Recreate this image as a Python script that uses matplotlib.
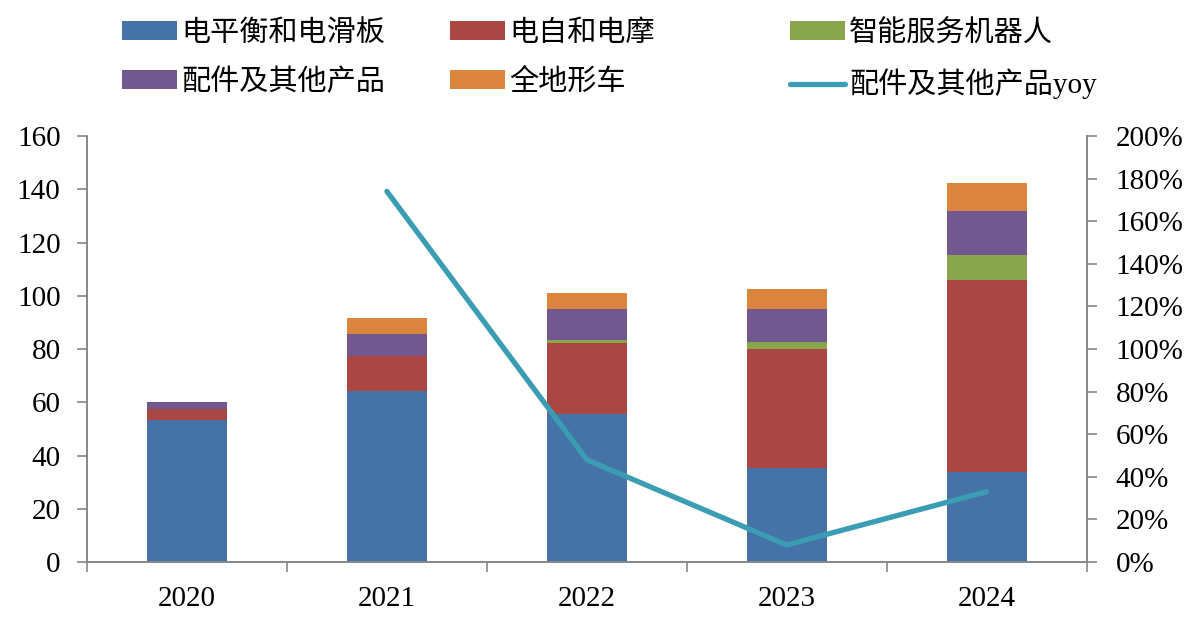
import numpy as np
import matplotlib.pyplot as plt
from matplotlib.ticker import FuncFormatter

plt.rcParams['font.family'] = ['Liberation Serif', 'Noto Sans CJK SC']

years = ['2020', '2021', '2022', '2023', '2024']
balance = [53.2, 64.3, 55.6, 35.4, 33.8]       # 电平衡和电滑板
ebike = [4.2, 13.2, 26.7, 44.5, 72.1]          # 电自和电摩
robot = [0.0, 0.0, 1.0, 2.7, 9.4]              # 智能服务机器人
parts = [2.6, 8.1, 11.6, 12.3, 16.5]           # 配件及其他产品
atv = [0.0, 6.2, 6.0, 7.6, 10.4]               # 全地形车
parts_yoy = [np.nan, 1.74, 0.48, 0.08, 0.33]   # 配件及其他产品yoy

names = ['电平衡和电滑板', '电自和电摩', '智能服务机器人', '配件及其他产品', '全地形车']
colors = ['#4572A7', '#AA4643', '#89A54E', '#71588F', '#DB843D']
line_color = '#3A9DB3'

fig = plt.figure(figsize=(12, 6.21), dpi=100)
ax = fig.add_axes([0.0725, 0.095, 0.833, 0.686])

x = np.arange(len(years))
bottom = np.zeros(len(years))
bars = []
for vals, name, c in zip([balance, ebike, robot, parts, atv], names, colors):
    b = ax.bar(x, vals, 0.4, bottom=bottom, color=c, label=name, zorder=2)
    bars.append(b)
    bottom += np.array(vals)

ax.set_xlim(-0.5, 4.5)
ax.set_ylim(0, 160)
ax.set_yticks(range(0, 161, 20))
ax.set_xticks(x)
ax.set_xticklabels(years)
ax.set_xticks(np.arange(-0.5, 5, 1), minor=True)
ax.tick_params(axis='x', which='major', length=0, pad=17, labelsize=21)
ax.tick_params(axis='x', which='minor', length=7, width=1.2, color='#888888')
ax.tick_params(axis='y', length=7, width=1.2, color='#888888', pad=12, labelsize=21)

ax2 = ax.twinx()
ln, = ax2.plot(x, parts_yoy, color=line_color, lw=3.8, solid_capstyle='round',
               label='配件及其他产品yoy', zorder=3)
ax2.set_ylim(0, 2.0)
ax2.set_yticks(np.arange(0, 2.01, 0.2))
ax2.yaxis.set_major_formatter(FuncFormatter(lambda v, p: f'{v*100:.0f}%'))
ax2.tick_params(axis='y', length=7, width=1.2, color='#888888', pad=14, labelsize=21)

for a in (ax, ax2):
    a.spines['top'].set_visible(False)
    for s in ('left', 'right', 'bottom'):
        a.spines[s].set_color('#888888')
        a.spines[s].set_linewidth(1.2)

# legend: three columns placed by hand
cols = [([bars[0], bars[3]], [names[0], names[3]], 122),
        ([bars[1], bars[4]], [names[1], names[4]], 450),
        ([bars[2], ln], [names[2], '配件及其他产品yoy'], 790)]
for h, l, px in cols:
    fig.legend(h, l, loc='upper left', bbox_to_anchor=(px / 1200, 1 - 20 / 621),
               frameon=False, fontsize=21, handlelength=1.9, handleheight=0.62,
               handletextpad=0.12, labelspacing=0.74, borderpad=0, borderaxespad=0)

fig.savefig('out.png', dpi=100)
